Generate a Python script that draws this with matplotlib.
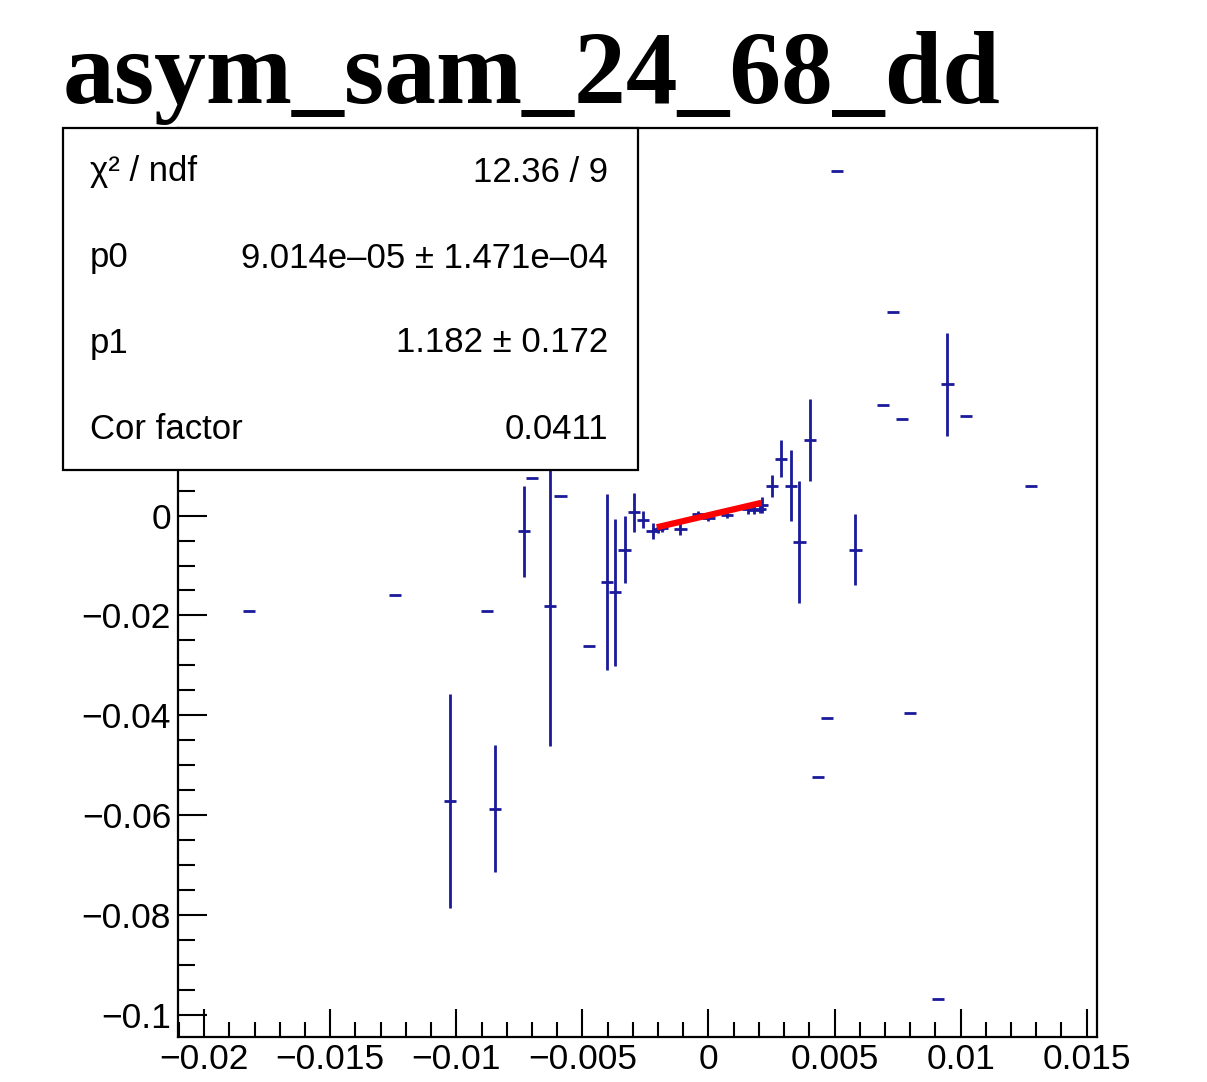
"""
asym_sam_24_68_dd: asymmetry scatter with a linear fit and a ROOT-style stats box.
"""
import numpy as np
import matplotlib
matplotlib.use('Agg')
import matplotlib.pyplot as plt
from matplotlib.patches import Rectangle
from matplotlib.ticker import MultipleLocator, FuncFormatter

plt.rcParams['font.family'] = ['Liberation Sans', 'DejaVu Sans']

# data
x_vals = [-0.01824, -0.01242, -0.01024, -0.00878, -0.00845, -0.00732, -0.00700,
          -0.00627, -0.00587, -0.00475, -0.00402, -0.00369, -0.00333, -0.00296,
          -0.00258, -0.00222, -0.00199, -0.00183, -0.00111, -0.00040, 0.00000,
          0.00075, 0.00155, 0.00179, 0.00206, 0.00214, 0.00253, 0.00289,
          0.00328, 0.00361, 0.00402, 0.00434, 0.00471, 0.00511, 0.00583,
          0.00693, 0.00733, 0.00769, 0.00799, 0.00911, 0.00948, 0.01023, 0.01278]
y_vals = [-0.0192, -0.0160, -0.0572, -0.0192, -0.0587, -0.0031, 0.0076,
          -0.0182, 0.0039, -0.0261, -0.0133, -0.0154, -0.0068, 0.0007,
          -0.0008, -0.0030, -0.0026, -0.0024, -0.0026, 0.0004, -0.0004,
          0.0002, 0.0014, 0.0012, 0.0014, 0.0022, 0.0060, 0.0114,
          0.0060, -0.0053, 0.0151, -0.0524, -0.0406, 0.0691, -0.0068,
          0.0221, 0.0408, 0.0194, -0.0395, -0.0968, 0.0263, 0.0199, 0.0059]
y_errs = [0.0, 0.0, 0.0214, 0.0, 0.0127, 0.0091, 0.0,
          0.0280, 0.0, 0.0, 0.0176, 0.0147, 0.0068, 0.0039,
          0.0017, 0.0016, 0.0008, 0.0008, 0.0012, 0.0006, 0.0006,
          0.0006, 0.0010, 0.0008, 0.0008, 0.0016, 0.0022, 0.0037,
          0.0071, 0.0122, 0.0082, 0.0, 0.0, 0.0, 0.0071,
          0.0, 0.0, 0.0, 0.0, 0.0, 0.0104, 0.0, 0.0]
x_err = 0.00024

# fit result (pol1) and range
p0 = 9.014e-05
p1 = 1.182
fit_range = (-0.00205, 0.00210)

stats_labels = ['χ² / ndf', 'p0', 'p1', 'Cor factor']
stats_values = ['12.36 / 9', '9.014e–05 ± 1.471e–04', '1.182 ± 0.172', '0.0411']

title = 'asym_sam_24_68_dd'

W, H = 1207, 1082
fig = plt.figure(figsize=(W / 100, H / 100), dpi=100)
fig.patch.set_facecolor('white')

# frame: 178..1097 x 128..1037 px
ax = fig.add_axes([178 / W, 1 - 1037 / H, (1097 - 178) / W, (1037 - 128) / H])

navy = '#1a1a9a'
ax.errorbar(x_vals, y_vals, yerr=y_errs, xerr=x_err, fmt='none',
            ecolor=navy, elinewidth=2.0, capsize=0, zorder=3)

xf = np.linspace(fit_range[0], fit_range[1], 50)
ax.plot(xf, p0 + p1 * xf, color='red', linewidth=4.5, zorder=4,
        solid_capstyle='butt')

ax.set_xlim(-0.02104, 0.01541)
ax.set_ylim(-0.1045, 0.0777)


def tick_label(v, pos):
    v = round(v, 6) + 0.0
    return ('%g' % v).replace('-', '\u2212')


def ytick_label(v, pos):
    # labels above zero sit under the stats box in the original
    if v > 0.001:
        return ''
    return tick_label(v, pos)


ax.xaxis.set_major_locator(MultipleLocator(0.005))
ax.xaxis.set_minor_locator(MultipleLocator(0.001))
ax.yaxis.set_major_locator(MultipleLocator(0.02))
ax.yaxis.set_minor_locator(MultipleLocator(0.005))
ax.xaxis.set_major_formatter(FuncFormatter(tick_label))
ax.yaxis.set_major_formatter(FuncFormatter(ytick_label))

ax.tick_params(axis='x', which='major', direction='in', length=20, width=1.5,
               labelsize=25.5, pad=4)
ax.tick_params(axis='x', which='minor', direction='in', length=11, width=1.5)
ax.tick_params(axis='y', which='major', direction='in', length=21, width=1.5,
               labelsize=25.5, pad=5)
ax.tick_params(axis='y', which='minor', direction='in', length=12, width=1.5)
for s in ax.spines.values():
    s.set_linewidth(1.6)

# stats box drawn over the axes
bx0, bx1, by0, by1 = 63, 638, 128, 470
fig.add_artist(Rectangle((bx0 / W, 1 - by1 / H), (bx1 - bx0) / W, (by1 - by0) / H,
                         transform=fig.transFigure, facecolor='white',
                         edgecolor='black', linewidth=1.6, zorder=5))
row_y = [172, 258, 343, 430]
for lab, val, ry in zip(stats_labels, stats_values, row_y):
    fig.text(90 / W, 1 - ry / H, lab, fontsize=25, ha='left', va='center', zorder=6)
    fig.text(608 / W, 1 - ry / H, val, fontsize=25, ha='right', va='center', zorder=6)

fig.text(63 / W, 1 - 103 / H, title, fontsize=74.5, fontweight='bold',
         family=['Liberation Serif', 'DejaVu Serif'], ha='left', va='baseline')

plt.savefig('out.png', dpi=100)
plt.close()
